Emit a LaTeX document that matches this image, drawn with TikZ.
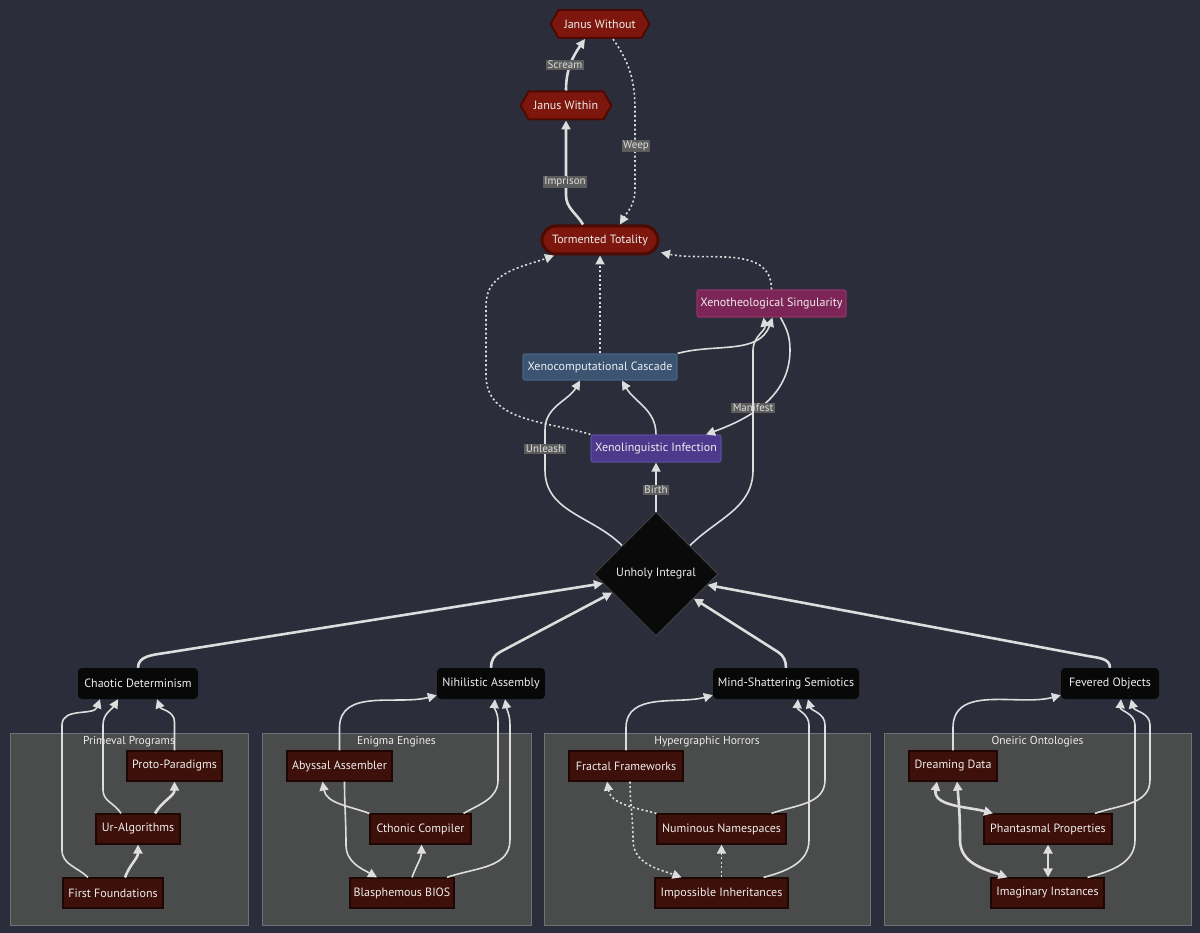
\documentclass[tikz,border=0pt]{standalone}
\usepackage{fontspec}
\setmainfont{PT Sans}
\usetikzlibrary{arrows.meta,shapes.geometric,shapes.symbols,calc}
\definecolor{bg}{HTML}{2B2E3A}
\definecolor{clfill}{HTML}{4A4B4B}
\definecolor{cldraw}{HTML}{6E7178}
\definecolor{drd}{HTML}{3E100A}
\definecolor{drdb}{HTML}{1F0604}
\definecolor{jan}{HTML}{7D160C}
\definecolor{janb}{HTML}{4C0A05}
\definecolor{xtf}{HTML}{7C2556}
\definecolor{xtb}{HTML}{8E3466}
\definecolor{xcf}{HTML}{3B5472}
\definecolor{xcb}{HTML}{486283}
\definecolor{xif}{HTML}{4D3A8C}
\definecolor{xib}{HTML}{5D4A9C}
\definecolor{ln}{HTML}{DDDDDD}
\definecolor{lblbg}{HTML}{5C5C5C}
\begin{document}
\begin{tikzpicture}[x=1pt,y=1pt,
  base/.style={inner sep=0pt, text=white!93!black, font=\fontsize{12}{14}\selectfont, align=center},
  blk/.style={base, fill=black!97, rounded corners=4pt, minimum height=31pt},
  drdn/.style={base, fill=drd, draw=drdb, line width=1.2pt, minimum height=30pt},
  hexn/.style={base, signal, signal to=east and west, signal pointer angle=120, fill=jan, draw=janb, line width=2pt, minimum height=28pt},
  xeno/.style={base, line width=1.2pt, rounded corners=2pt, minimum height=27pt},
  clbox/.style={fill=clfill, draw=cldraw, line width=0.8pt},
  cltitle/.style={text=white!93!black, font=\fontsize{11.5}{13}\selectfont, inner sep=0pt},
  lbl/.style={fill=lblbg, text=ln, font=\fontsize{11}{12}\selectfont, inner sep=1.5pt},
  e/.style={draw=ln, line width=1.6pt, -{Triangle[length=9pt,width=9pt]}},
  te/.style={draw=ln, line width=2.6pt, -{Triangle[length=9pt,width=9pt]}},
  de/.style={draw=ln, line width=1.6pt, dash pattern=on 2pt off 2.5pt, -{Triangle[length=9pt,width=9pt]}},
  be/.style={draw=ln, line width=2.6pt, {Triangle[length=9pt,width=9pt]}-{Triangle[length=9pt,width=9pt]}}
]
\useasboundingbox (0,0) rectangle (1200,-933);
\fill[bg] (0,0) rectangle (1200,-933);

% clusters
\node[clbox, minimum width=238pt, minimum height=192pt, inner sep=0pt] (cl1) at (129,-829) {};
\node[clbox, minimum width=269pt, minimum height=192pt, inner sep=0pt] (cl2) at (396.5,-829) {};
\node[clbox, minimum width=326pt, minimum height=192pt, inner sep=0pt] (cl3) at (707,-829) {};
\node[clbox, minimum width=307pt, minimum height=192pt, inner sep=0pt] (cl4) at (1037.5,-829) {};
\node[cltitle] (t1) at (129,-742) {Primeval Programs};
\node[cltitle] (t2) at (396.5,-742) {Enigma Engines};
\node[cltitle] (t3) at (707,-742) {Hypergraphic Horrors};
\node[cltitle] (t4) at (1037.5,-742) {Oneiric Ontologies};

% top nodes
\node[hexn, minimum width=99pt] (jo) at (600,-24) {Janus Without};
\node[hexn, minimum width=91pt] (jw) at (566,-105.5) {Janus Within};
\node[base, fill=jan, draw=janb, line width=3pt, rounded corners=14pt, minimum width=116pt, minimum height=28pt] (tt) at (600,-240) {Tormented Totality};
\node[xeno, fill=xtf, draw=xtb, minimum width=149pt] (xt) at (771.5,-303.5) {Xenotheological Singularity};
\node[xeno, fill=xcf, draw=xcb, minimum width=154pt, minimum height=26pt] (xc) at (600,-367) {Xenocomputational Cascade};
\node[xeno, fill=xif, draw=xib, minimum width=130pt] (xi) at (656,-448.5) {Xenolinguistic Infection};
\node[base, diamond, aspect=1, minimum width=124pt, minimum height=124pt, fill=black!96, draw=black!75, line width=1pt] (ui) at (656,-574) {Unholy Integral};

% black nodes
\node[blk, minimum width=120pt] (cd) at (138,-683.5) {Chaotic Determinism};
\node[blk, minimum width=108pt] (na) at (491,-683.5) {Nihilistic Assembly};
\node[blk, minimum width=146pt] (ms) at (786,-683.5) {Mind-Shattering Semiotics};
\node[blk, minimum width=98pt] (fo) at (1110,-683.5) {Fevered Objects};

% cluster nodes
\node[drdn, minimum width=95pt] (pp) at (174.5,-766) {Proto-Paradigms};
\node[drdn, minimum width=84pt] (ua) at (138,-829) {Ur-Algorithms};
\node[drdn, minimum width=100pt] (ff) at (113,-893) {First Foundations};
\node[drdn, minimum width=105pt] (aa) at (339.5,-766) {Abyssal Assembler};
\node[drdn, minimum width=101pt] (cc) at (420.5,-829) {Cthonic Compiler};
\node[drdn, minimum width=104pt] (bb) at (402,-893) {Blasphemous BIOS};
\node[drdn, minimum width=114pt] (fr) at (626,-766) {Fractal Frameworks};
\node[drdn, minimum width=129pt] (nn) at (721.5,-829) {Numinous Namespaces};
\node[drdn, minimum width=133pt] (ii) at (721.5,-893) {Impossible Inheritances};
\node[drdn, minimum width=88pt] (dd) at (953,-766) {Dreaming Data};
\node[drdn, minimum width=128pt] (ph) at (1048,-829) {Phantasmal Properties};
\node[drdn, minimum width=113pt] (im) at (1047.5,-893) {Imaginary Instances};

% top edges
\draw[te] (jw.north) to[out=90,in=235] ([xshift=-15pt]jo.south);
\draw[de] ([xshift=13pt]jo.south) to[out=-55,in=90] (635,-110) -- (635,-190) to[out=-90,in=60] ([xshift=20pt]tt.north);
\draw[te] ([xshift=-17pt]tt.north) to[out=120,in=-90] (566,-195) -- (jw.south);
\node[lbl] (lscream) at (565,-65) {Scream};
\node[lbl] (lweep) at (636,-146) {Weep};
\node[lbl] (limprison) at (565,-182) {Imprison};

\draw[de] (xi.north west) to[out=163,in=-90] (486,-375) -- (486,-305) to[out=90,in=200] ([xshift=-46pt]tt.south);
\draw[de] (xc.north) -- (tt.south);
\draw[de] (xt.north) to[out=90,in=-12] ([shift={(61pt,3pt)}]tt.south);
\draw[e] (xc.north east) to[out=15,in=-110] ([xshift=1pt]xt.south);
\draw[e] ([xshift=9pt]xt.south) to[out=-60,in=90] (790,-350) to[out=-90,in=20] ([xshift=50pt]xi.north);
\node[lbl] (lmanifest) at (753,-408) {Manifest};
\draw[e] (xi.north) to[out=90,in=-60] ([xshift=22pt]xc.south);

\draw[e] (ui.140) to[out=135,in=-90] (545,-470) -- (545,-430) to[out=90,in=-120] ([xshift=-20pt]xc.south);
\node[lbl] (lunleash) at (545,-449) {Unleash};
\draw[e] (ui.north) -- (xi.south);
\node[lbl] (lbirth) at (656,-490) {Birth};
\draw[e] (ui.40) to[out=45,in=-90] (753,-470) -- (753,-350) to[out=90,in=-80] ([xshift=-8pt]xt.south);

% heads to unholy
\draw[te] (cd.north) to[out=90,in=189] (165,-653) -- (ui.190);
\draw[te] (na.north) to[out=90,in=208] (500,-652) -- (ui.203);
\draw[te] (ms.north) to[out=90,in=-33] (778,-652) -- (ui.-33);
\draw[te] (fo.north) to[out=90,in=-11] (1088,-656) -- (ui.-12);

% primeval
\draw[e] ([xshift=-25pt]ff.north) to[out=135,in=-90] (62,-850) -- (62,-725) to[out=90,in=-110] ([xshift=-38pt]cd.south);
\draw[te] ([xshift=12pt]ff.north) to[out=70,in=-90] (ua.south);
\draw[e] ([xshift=-17pt]ua.north) to[out=120,in=-90] (103,-790) -- (103,-725) to[out=90,in=-120] ([xshift=-20pt]cd.south);
\draw[te] ([xshift=17pt]ua.north) to[out=60,in=-90] (pp.south);
\draw[e] (pp.north) -- (174.5,-722) to[out=90,in=-70] ([xshift=19pt]cd.south);

% enigma
\draw[e] (aa.north) -- (339.5,-728) to[out=90,in=195] ([yshift=4pt]na.south west);
\draw[e] ([xshift=5pt]aa.south) to[out=-90,in=90] (346,-845) to[out=-90,in=150] ([xshift=-25pt]bb.north);
\draw[e] (cc.north west) to[out=160,in=-80] ([xshift=-17pt]aa.south);
\draw[e] ([xshift=43pt]cc.north) to[out=30,in=-90] (498,-780) -- (498,-722) to[out=90,in=-95] ([xshift=4pt]na.south);
\draw[e] ([xshift=10pt]bb.north) to[out=70,in=-90] ([xshift=1pt]cc.south);
\draw[e] ([xshift=45pt]bb.north) to[out=20,in=-90] (510,-840) -- (510,-725) to[out=90,in=-80] ([xshift=14pt]na.south);

% hypergraphic
\draw[e] (fr.north) -- (626,-728) to[out=90,in=195] ([yshift=4pt]ms.south west);
\draw[de] ([xshift=4pt]fr.south) to[out=-90,in=90] (633,-840) to[out=-90,in=160] ([xshift=-40pt]ii.north);
\draw[de] (nn.north west) to[out=165,in=-80] ([xshift=-19pt]fr.south);
\draw[e] ([xshift=50pt]nn.north) to[out=20,in=-90] (825,-780) -- (825,-725) to[out=90,in=-75] ([xshift=22pt]ms.south);
\draw[de] (ii.north) -- (nn.south);
\draw[e] ([xshift=42pt]ii.north) to[out=15,in=-90] (809,-840) -- (809,-725) to[out=90,in=-95] ([xshift=12pt]ms.south);

% oneiric
\draw[e] (dd.north) -- (953,-728) to[out=90,in=195] ([yshift=4pt]fo.south west);
\draw[be] ([xshift=-16pt]dd.south) to[out=-100,in=165] ([xshift=-55pt]ph.north);
\draw[be] ([xshift=4pt]dd.south) to[out=-85,in=90] (960,-840) to[out=-90,in=160] ([xshift=-40pt]im.north);
\draw[be] (ph.south) -- (ph.south |- im.north);
\draw[e] ([xshift=47pt]ph.north) to[out=20,in=-90] (1150,-780) -- (1150,-725) to[out=90,in=-75] ([xshift=21pt]fo.south);
\draw[e] ([xshift=40pt]im.north) to[out=15,in=-90] (1135,-840) -- (1135,-725) to[out=90,in=-95] ([xshift=11pt]fo.south);
\end{tikzpicture}
\end{document}
